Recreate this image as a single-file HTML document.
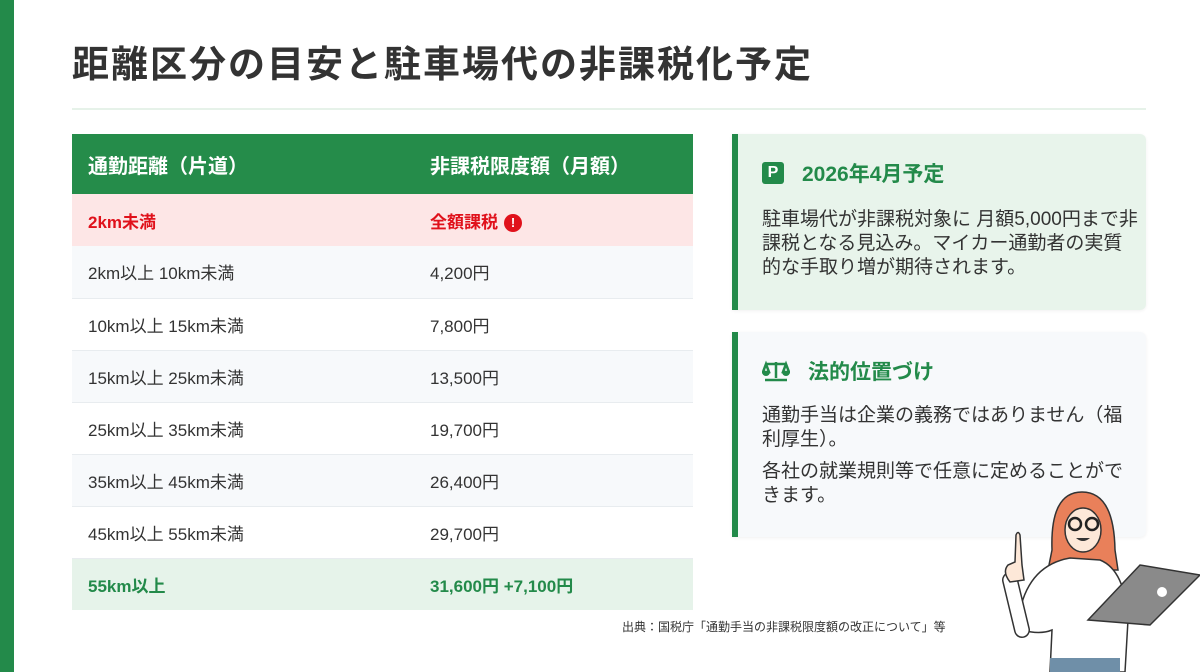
<!DOCTYPE html>
<html><head><meta charset="utf-8"><style>
*{margin:0;padding:0;box-sizing:border-box}
body{width:1200px;height:672px;background:#fff;position:relative;overflow:hidden;font-family:"Liberation Sans","Noto Sans CJK JP",sans-serif;color:#333}
.bar{position:absolute;left:0;top:0;width:14px;height:672px;background:#238a4a}
h1{position:absolute;left:72px;top:34px;font-size:37px;font-weight:700;color:#333;letter-spacing:2px}
.hr{position:absolute;left:72px;top:108px;width:1074px;height:2px;background:#e6f2e9}
table{position:absolute;left:72px;top:134px;width:621px;border-collapse:collapse;font-size:17px}
th{background:#258c4a;color:#fff;height:60px;text-align:left;padding-left:16px;font-size:20px;font-weight:700}
td{height:52px;padding-left:16px;border-bottom:1px solid #e8ecef;color:#333}
td:nth-child(2),th:nth-child(2){padding-left:0;width:263px}
tr.red td{background:#fde6e6;color:#e0111b;font-weight:700;border:none}
tr.g td{background:#e6f3ea;color:#238a4a;font-weight:700;border:none}
tr.alt td{background:#f7f9fb}
.ex{display:inline-block;width:18px;height:18px;border-radius:50%;background:#e0111b;color:#fff;font-size:13px;text-align:center;line-height:18px;margin-left:6px;vertical-align:1px}
.card{position:absolute;left:732px;width:414px;border-left:6px solid #238a4a;border-radius:0 6px 6px 0;padding:24px 0 0 24px;box-shadow:0 1px 3px rgba(0,0,0,.06)}
.card h2{font-size:21px;color:#238a4a;font-weight:700;display:flex;align-items:center;gap:18px;margin-bottom:20px}
.card p{font-size:19px;line-height:24px;color:#333;padding-right:6px}
.pi{width:22px;height:22px;background:#238a4a;border-radius:3px;color:#fff;font-size:16px;text-align:center;line-height:22px;font-weight:700}
.src{position:absolute;left:622px;top:618px;font-size:12px;color:#333}
</style></head><body>
<div class="bar"></div>
<h1>距離区分の目安と駐車場代の非課税化予定</h1>
<div class="hr"></div>
<table>
<tr><th>通勤距離（片道）</th><th>非課税限度額（月額）</th></tr>
<tr class="red"><td>2km未満</td><td>全額課税<span class="ex">!</span></td></tr>
<tr class="alt"><td>2km以上 10km未満</td><td>4,200円</td></tr>
<tr><td>10km以上 15km未満</td><td>7,800円</td></tr>
<tr class="alt"><td>15km以上 25km未満</td><td>13,500円</td></tr>
<tr><td>25km以上 35km未満</td><td>19,700円</td></tr>
<tr class="alt"><td>35km以上 45km未満</td><td>26,400円</td></tr>
<tr><td>45km以上 55km未満</td><td>29,700円</td></tr>
<tr class="g"><td>55km以上</td><td>31,600円 +7,100円</td></tr>
</table>
<div class="card" style="top:134px;height:176px;background:#e8f4eb">
<h2><span class="pi">P</span>2026年4月予定</h2>
<p>駐車場代が非課税対象に 月額5,000円まで非課税となる見込み。マイカー通勤者の実質的な手取り増が期待されます。</p>
</div>
<div class="card" style="top:332px;height:205px;background:#f7f9fb">
<h2><svg width="28" height="22" viewBox="0 0 28 22"><g fill="none" stroke="#238a4a" stroke-width="2.5"><path d="M14 2v16M4 4h20M3 20h22"/><path d="M1 12l3-8 3 8zM21 12l3-8 3 8z"/></g><path d="M0 12h8a4 4 0 0 1-8 0zM20 12h8a4 4 0 0 1-8 0z" fill="#238a4a"/></svg>法的位置づけ</h2>
<p style="margin-top:-2px">通勤手当は企業の義務ではありません（福利厚生）。</p>
<p style="margin-top:8px">各社の就業規則等で任意に定めることができます。</p>
</div>
<div class="src">出典：国税庁「通勤手当の非課税限度額の改正について」等</div>
<svg style="position:absolute;left:960px;top:480px" width="240" height="192" viewBox="0 0 240 192">
<path d="M92 70 Q90 12 122 12 Q154 12 155 70 L158 90 L88 90Z" fill="#e9805a" stroke="#333" stroke-width="1.5"/>
<ellipse cx="123" cy="50" rx="18" ry="22" fill="#fde8d8" stroke="#333" stroke-width="1.5"/>
<circle cx="115" cy="44" r="6" fill="none" stroke="#222" stroke-width="2.5"/><circle cx="132" cy="44" r="6" fill="none" stroke="#222" stroke-width="2.5"/>
<path d="M116 58 q7 6 14 0" fill="#333"/>
<path d="M60 130 Q70 85 110 78 L140 80 Q165 90 168 140 L165 192 L90 192 L92 150 Q80 155 62 150Z" fill="#fff" stroke="#333" stroke-width="1.5"/>
<path d="M50 100 L62 150" stroke="#333" stroke-width="16" stroke-linecap="round"/><path d="M50 100 L62 150" stroke="#fff" stroke-width="13" stroke-linecap="round"/>
<path d="M48 85 Q42 92 50 102 L64 100 L62 85 L60 55 Q58 50 56 55 L55 82Z" fill="#fde8d8" stroke="#333" stroke-width="1.5"/>
<path d="M128 140 L190 145 L240 95 L180 85Z" fill="#8a8a8a" stroke="#333" stroke-width="1.5"/>
<circle cx="202" cy="112" r="5" fill="#fff"/>
<rect x="90" y="178" width="70" height="14" fill="#6f8fa8"/>
</svg>
</body></html>
